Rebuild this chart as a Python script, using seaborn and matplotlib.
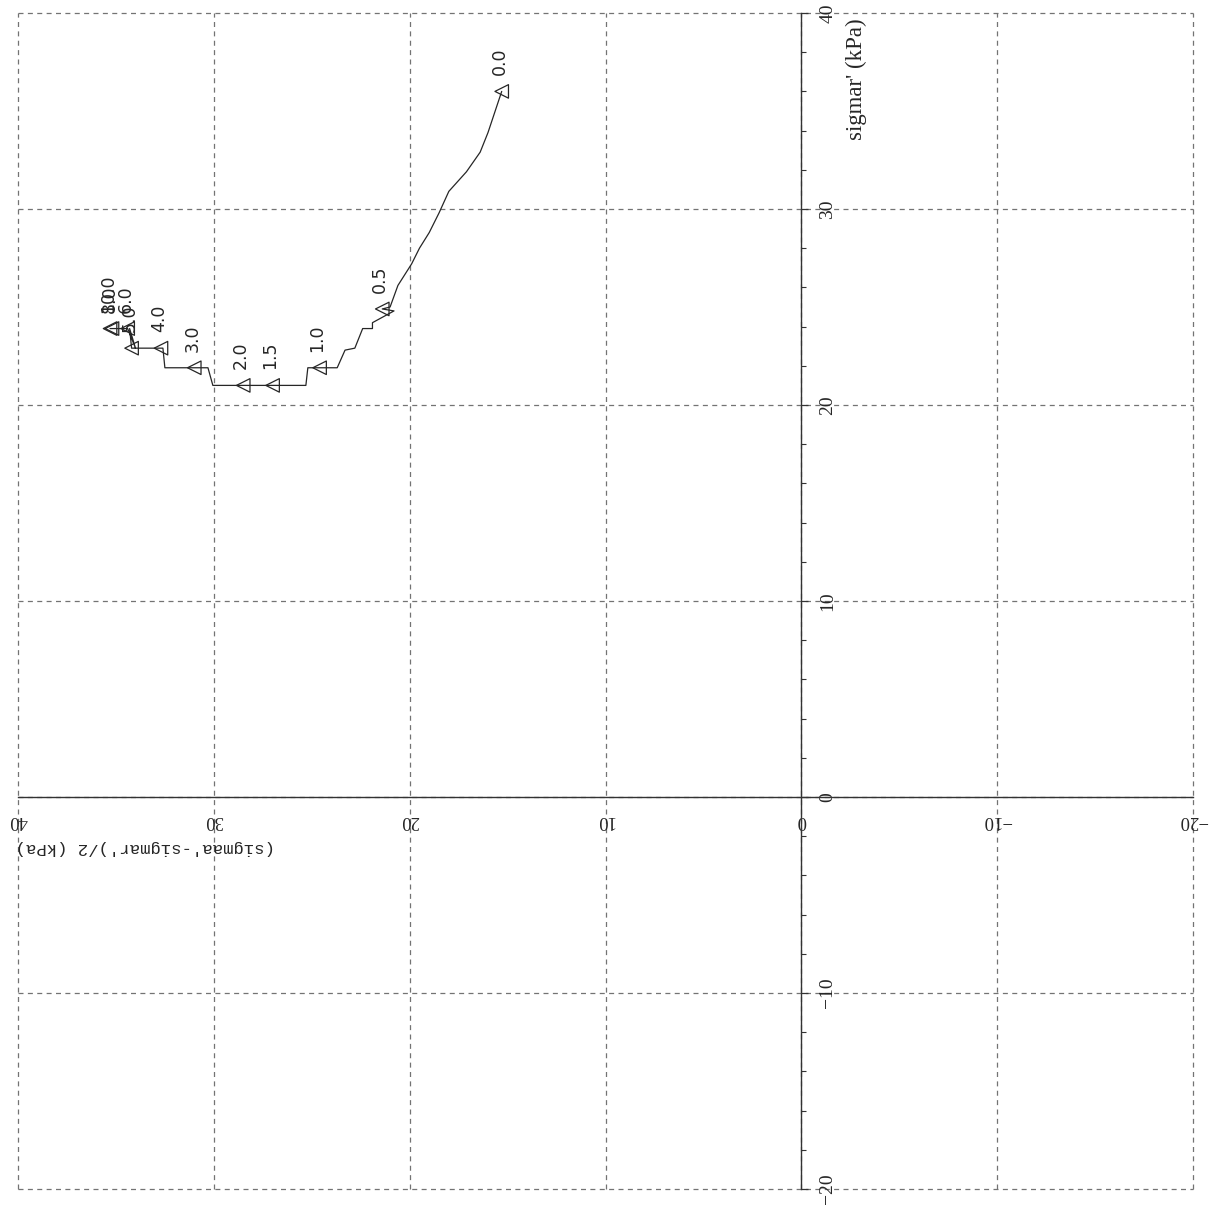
import numpy as np
import pandas as pd
import seaborn as sns
import matplotlib.pyplot as plt
from matplotlib.ticker import MultipleLocator

# stress path: q = (sigmaa'-sigmar')/2, s = sigmar'
path_q = [15.3, 15.6, 16.0, 16.4, 17.1, 18.0, 18.5, 19.0, 19.5, 19.9, 20.6, 21.0,
          21.4, 20.8, 21.9, 21.9, 22.4, 22.8, 23.3, 23.7, 24.6, 25.2, 25.3, 27.0,
          28.5, 30.05, 30.3, 31.0, 32.5, 32.6, 32.7, 34.0, 34.2, 34.3, 34.0, 34.4,
          35.2, 35.3]
path_s = [36.0, 35.1, 33.9, 32.9, 31.9, 30.9, 29.8, 28.8, 28.0, 27.2, 26.1, 25.0,
          24.9, 24.8, 24.2, 23.9, 23.9, 22.9, 22.8, 21.9, 21.9, 21.9, 21.0, 21.0,
          21.0, 21.0, 21.9, 21.9, 21.9, 22.9, 22.9, 22.9, 22.9, 23.9, 22.9, 23.9,
          23.9, 23.9]

# labelled readings
mark_q = [15.3, 21.4, 24.6, 27.0, 28.5, 31.0, 32.7, 34.2, 34.4, 35.2, 35.3]
mark_s = [36.0, 24.9, 21.9, 21.0, 21.0, 21.9, 22.9, 22.9, 23.9, 23.9, 23.9]
mark_lbl = ['0.0', '0.5', '1.0', '1.5', '2.0', '3.0', '4.0', '5.0', '6.0', '8.0', '10.0']

tick_vals = [-20, -10, 0, 10, 20, 30, 40]

sns.set_style('white')
plt.rcParams['font.family'] = ['DejaVu Sans']

fig = plt.figure(figsize=(12.25, 12.06), dpi=100)
ax = fig.add_axes([18 / 1225, 17 / 1206, 1175 / 1225, 1176 / 1206])

df = pd.DataFrame({'q': path_q, 's': path_s})
sns.lineplot(data=df, x='q', y='s', sort=False, estimator=None,
             color='0.15', lw=0.9, ax=ax)
sns.scatterplot(x=mark_q, y=mark_s, marker='<', s=95, facecolor='none',
                edgecolor='0.15', linewidth=0.9, ax=ax, zorder=4)
for q, s, t in zip(mark_q, mark_s, mark_lbl):
    ax.annotate(t, (q, s), xytext=(-2, 16), textcoords='offset pixels',
                rotation=90, ha='center', va='bottom', fontsize=12.5, color='0.15')

ax.set_xlim(40, -20)
ax.set_ylim(-20, 40)

# axes cross at the origin, value labels on the right / below
ax.spines['left'].set_visible(False)
ax.spines['top'].set_visible(False)
ax.spines['right'].set_position(('data', 0))
ax.spines['bottom'].set_position(('data', 0))
for sp in ['right', 'bottom']:
    ax.spines[sp].set_color('0.2')
    ax.spines[sp].set_linewidth(1.0)
ax.yaxis.tick_right()

for a in [ax.xaxis, ax.yaxis]:
    a.set_major_locator(MultipleLocator(10))
    a.set_minor_locator(MultipleLocator(2))
ax.set_xticks(tick_vals)
ax.set_yticks(tick_vals)

ax.tick_params(which='major', length=5, width=0.9, color='0.2', direction='out')
ax.tick_params(which='minor', length=3.5, width=0.8, color='0.2', direction='out')
ax.tick_params(axis='y', pad=8)
ax.tick_params(axis='x', pad=6)

plt.setp(ax.get_yticklabels(), rotation=90, va='center', ha='left',
         family='Liberation Serif', fontsize=14, color='0.15')
plt.setp(ax.get_xticklabels(), rotation=180, ha='center', va='top',
         family='Liberation Serif', fontsize=13.5, color='0.15')

ax.grid(True, which='major', linestyle=(0, (4, 3.5)), color='0.45', lw=0.9)
for gl in ax.get_xgridlines() + ax.get_ygridlines():
    gl.set_clip_on(False)

ax.set_xlabel('')
ax.set_ylabel('')
ax.text(-2.8, 36.6, "sigmar' (kPa)", rotation=90, ha='center', va='center',
        family='Liberation Serif', fontsize=16.5, color='0.15')
ax.text(33.5, -2.6, "(sigmaa'-sigmar')/2 (kPa)", rotation=180, ha='center',
        va='center', family='Liberation Mono', fontsize=12.5, color='0.15')

fig.savefig('out.png', dpi=100, facecolor='white')
